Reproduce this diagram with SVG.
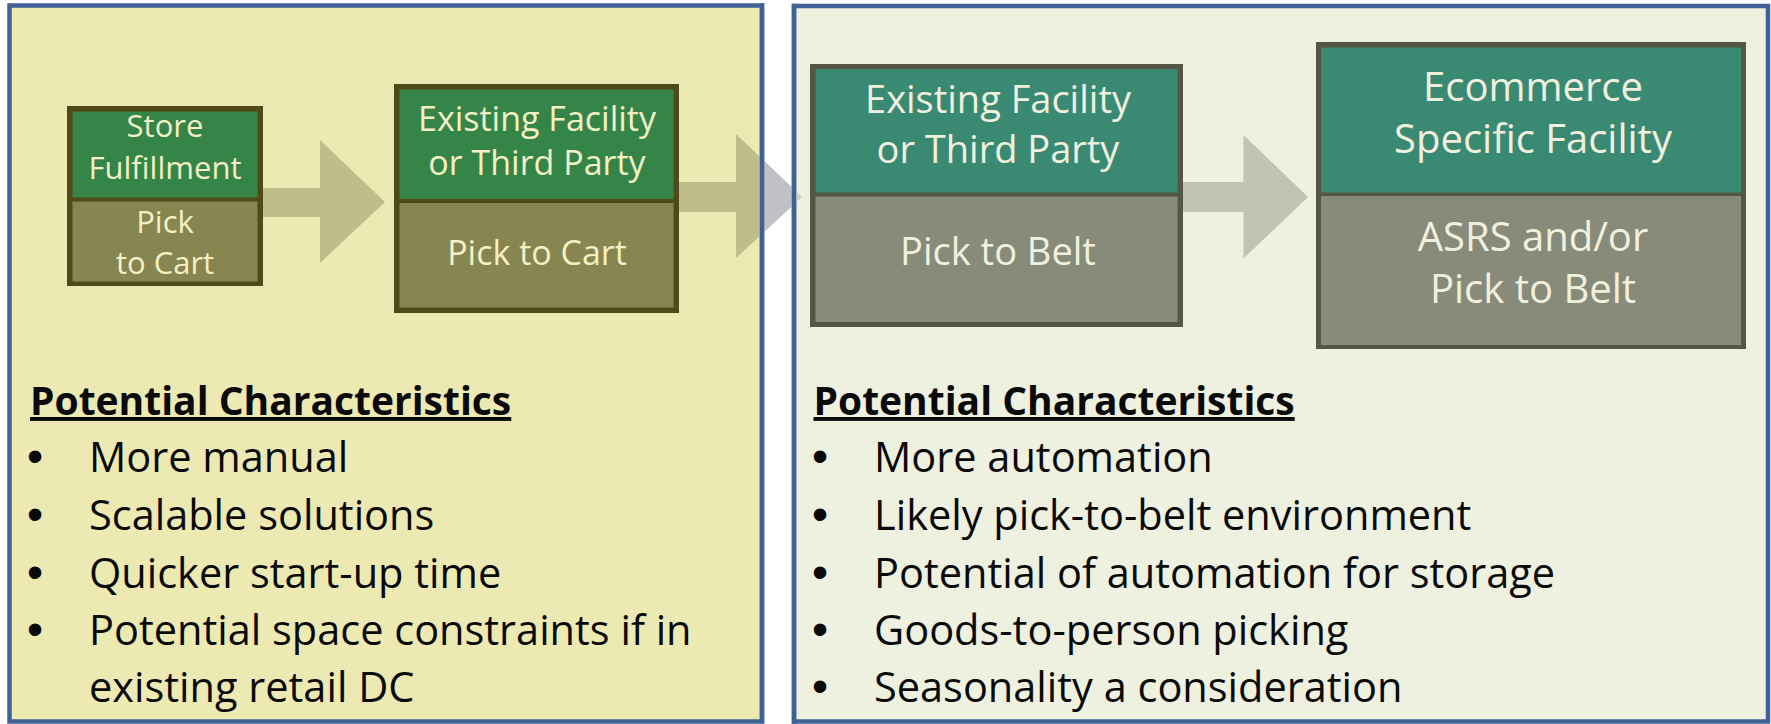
<svg xmlns="http://www.w3.org/2000/svg" width="1771" height="724" viewBox="0 0 1771 724">
<style>
.panel{stroke:#3F6196;stroke-width:4.5}
.lbl{font-family:"Open Sans","Liberation Sans",sans-serif;text-anchor:middle}
.lblL{fill:#F3F0C6}
.lblR{fill:#F0F0DE}
.head{font-family:"Open Sans","Liberation Sans",sans-serif;font-weight:bold;font-size:39px;fill:#0A0A0A;text-decoration:underline}
.bul{font-family:"Open Sans","Liberation Sans",sans-serif;font-size:41.5px;fill:#0A0A0A}
.dot{font-family:"Liberation Sans",Arial,sans-serif;font-size:46px;fill:#0A0A0A}
</style>
<defs>
<clipPath id="cL"><rect x="0" y="0" width="762" height="724"/></clipPath>
<clipPath id="cG"><rect x="762" y="0" width="32" height="724"/></clipPath>
<clipPath id="cR"><rect x="794" y="0" width="977" height="724"/></clipPath>
</defs>
<rect x="0" y="0" width="1771" height="724" fill="#FFFFFF"/>
<g id="panel-left">
<rect class="panel" x="9.5" y="5.5" width="752.5" height="716" fill="#ECE9B3"/>
</g>
<g id="panel-right">
<rect class="panel" x="794" y="6" width="974" height="715.5" fill="#EEF0E0"/>
</g>
<g id="connectors">
<path d="M262,188 H320 V140 L385,202 L320,263 V217 H262 Z" fill="#BFBE8A"/>
<g>
<path clip-path="url(#cL)" d="M679,182 H736 V134 L802,197 L736,258 V212 H679 Z" fill="#BFBE8A"/>
<path clip-path="url(#cG)" d="M679,182 H736 V134 L802,197 L736,258 V212 H679 Z" fill="#C0C1C6"/>
<path clip-path="url(#cR)" d="M679,182 H736 V134 L802,197 L736,258 V212 H679 Z" fill="#CDD1C2"/>
</g>
<path d="M1183,182 H1243.5 V135 L1308,197 L1243.5,258.5 V212 H1183 Z" fill="#BFC4B3"/>
</g>
<rect x="759.75" y="3.25" width="4.5" height="720" fill="#3F6196"/>
<rect x="791.75" y="3.75" width="4.5" height="720" fill="#3F6196"/>
<g id="box-store">
<rect x="67" y="106" width="196" height="180" fill="#4F4A17"/>
<rect x="72.5" y="111.5" width="185" height="86" fill="#358548"/>
<rect x="72.5" y="201.5" width="185" height="80" fill="#878550"/>
<text class="lbl lblL" x="165" y="136.5" font-size="31">Store</text>
<text class="lbl lblL" x="165" y="179" font-size="31">Fulfillment</text>
<text class="lbl lblL" x="165" y="232.5" font-size="31">Pick</text>
<text class="lbl lblL" x="165" y="274" font-size="31">to Cart</text>
</g>
<g id="box-existing-left">
<rect x="394" y="84" width="285" height="229" fill="#4F4A17"/>
<rect x="399.5" y="89.5" width="274" height="109.5" fill="#358548"/>
<rect x="399.5" y="203" width="274" height="104.5" fill="#878550"/>
<text class="lbl lblL" x="537" y="131" font-size="34">Existing Facility</text>
<text class="lbl lblL" x="537" y="175" font-size="34">or Third Party</text>
<text class="lbl lblL" x="537" y="265" font-size="34">Pick to Cart</text>
</g>
<g id="box-existing-right">
<rect x="810" y="64" width="373" height="263" fill="#545646"/>
<rect x="815.5" y="69" width="362" height="123.5" fill="#3A8A73"/>
<rect x="815.5" y="196.5" width="362" height="125.5" fill="#888B7A"/>
<text class="lbl lblR" x="998" y="113" font-size="38">Existing Facility</text>
<text class="lbl lblR" x="998" y="162.5" font-size="38">or Third Party</text>
<text class="lbl lblR" x="998" y="265" font-size="38">Pick to Belt</text>
</g>
<g id="box-ecommerce">
<rect x="1316" y="42" width="430" height="307" fill="#545646"/>
<rect x="1321" y="47.5" width="420" height="145" fill="#3A8A73"/>
<rect x="1321" y="196" width="420" height="149" fill="#888B7A"/>
<text class="lbl lblR" x="1533" y="101" font-size="40">Ecommerce</text>
<text class="lbl lblR" x="1533" y="153" font-size="40">Specific Facility</text>
<text class="lbl lblR" x="1533" y="250.5" font-size="40">ASRS and/or</text>
<text class="lbl lblR" x="1533" y="303" font-size="40">Pick to Belt</text>
</g>
<g id="text-left">
<text class="head" x="30" y="415">Potential Characteristics</text>
<text class="dot" x="27" y="472">•</text><text class="bul" x="89" y="472">More manual</text>
<text class="dot" x="27" y="530">•</text><text class="bul" x="89" y="530">Scalable solutions</text>
<text class="dot" x="27" y="588">•</text><text class="bul" x="89" y="588">Quicker start-up time</text>
<text class="dot" x="27" y="645">•</text><text class="bul" x="89" y="645">Potential space constraints if in</text>
<text class="bul" x="89" y="702">existing retail DC</text>
</g>
<g id="text-right">
<text class="head" x="813.5" y="415">Potential Characteristics</text>
<text class="dot" x="812" y="472">•</text><text class="bul" x="874" y="472">More automation</text>
<text class="dot" x="812" y="530">•</text><text class="bul" x="874" y="530">Likely pick-to-belt environment</text>
<text class="dot" x="812" y="588">•</text><text class="bul" x="874" y="588">Potential of automation for storage</text>
<text class="dot" x="812" y="645">•</text><text class="bul" x="874" y="645">Goods-to-person picking</text>
<text class="dot" x="812" y="702">•</text><text class="bul" x="874" y="702">Seasonality a consideration</text>
</g>
</svg>
